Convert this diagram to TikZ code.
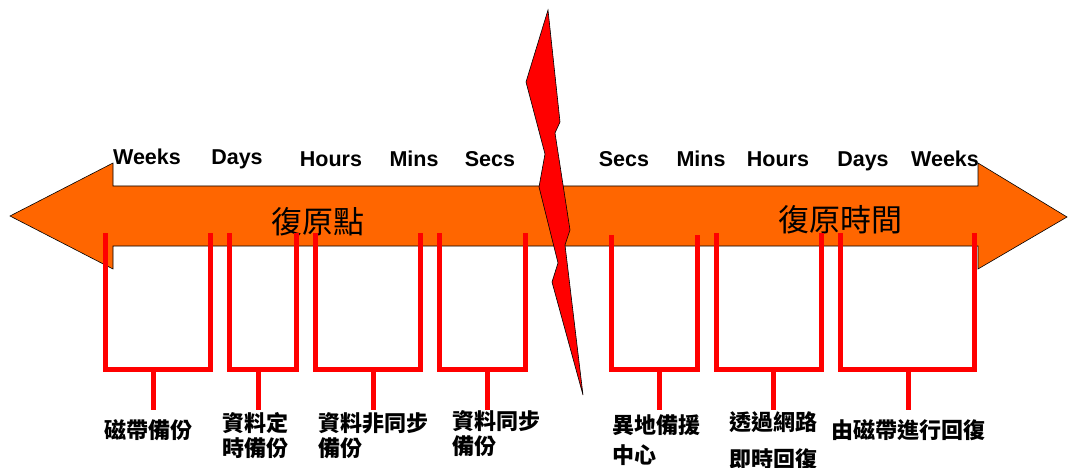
\documentclass[tikz,border=0pt]{standalone}
\usepackage{fontspec}
\setmainfont{Liberation Sans}
\newfontfamily\cjk{Noto Sans CJK TC}
\definecolor{arroworange}{HTML}{FF6600}
\begin{document}
\begin{tikzpicture}[x=1pt,y=-1pt,
  unit/.style={font=\fontsize{21.5}{24}\selectfont\bfseries, anchor=base, inner sep=0pt},
  big/.style={font=\cjk\fontsize{31}{34}\selectfont, inner sep=0pt},
  lab/.style={font=\cjk\bfseries\fontsize{22}{25}\selectfont, align=left, anchor=base west, inner sep=0pt},
  brk/.style={draw=red, line width=5pt},
  bodyarrow/.style={fill=arroworange, draw=black, line width=0.6pt, line join=miter},
  bolt/.style={fill=red, draw=black, line width=0.6pt}]
\useasboundingbox (0,0) rectangle (1069,468);

% double arrow
\draw[bodyarrow] (10,216) -- (113,163) -- (113,186) -- (978,186) -- (978,163) -- (1067,217)
  -- (978,269) -- (978,246) -- (113,246) -- (113,269) -- cycle;

% unit labels
\node[unit] (lw) at (147,165) {Weeks};
\node[unit] (ld) at (237,165) {Days};
\node[unit] (lh) at (331,167) {Hours};
\node[unit] (lm) at (414,167) {Mins};
\node[unit] (ls) at (490,167) {Secs};
\node[unit] (rs) at (624,167) {Secs};
\node[unit] (rm) at (701,167) {Mins};
\node[unit] (rh) at (778,167) {Hours};
\node[unit] (rd) at (863,167) {Days};
\node[unit] (rw) at (945,167) {Weeks};

% big labels
\node[big] (rpo) at (318,222) {復原點};
\node[big] (rto) at (840,220) {復原時間};

% brackets: left x, right x, stem x, top y
\foreach \n/\a/\b/\s/\t in {b1/105/210/153/233, b2/229/296/258/233, b3/315/420/373/233, b4/439/525/487/233,
                          b5/611/697/659/235, b6/716/821/773/233, b7/840/974/908/233}{
  \coordinate (\n tl) at (\a,\t);
  \coordinate (\n tr) at (\b,\t);
  \coordinate (\n bl) at (\a,369);
  \coordinate (\n br) at (\b,369);
  \coordinate (\n s) at (\s,369);
  \coordinate (\n e) at (\s,410);
  \draw[brk] (\n tl) -- (\n bl) -- (\n br) -- (\n tr);
  \draw[brk] (\n s) -- (\n e);
}

% bottom labels (anchor at baseline of last line)
\node[lab] (t1) at (104,438) {磁帶備份};
\node[lab] (t2) at (222,456) {資料定\\時備份};
\node[lab] (t3) at (318,456) {資料非同步\\備份};
\node[lab] (t4) at (452,454) {資料同步\\備份};
\node[lab] (t5) at (612,463) {異地備援\\[5pt]中心};
\node[lab] (t6) at (729,467) {透過網路\\[12pt]即時回復};
\node[lab] (t7) at (831,438) {由磁帶進行回復};

% lightning bolt
\draw[bolt] (548,10) -- (560,122) -- (555,133) -- (570,230) -- (565,245) -- (583,395)
  -- (552,282) -- (558,263) -- (539,187) -- (545,154) -- (526,82) -- cycle;
\end{tikzpicture}
\end{document}
